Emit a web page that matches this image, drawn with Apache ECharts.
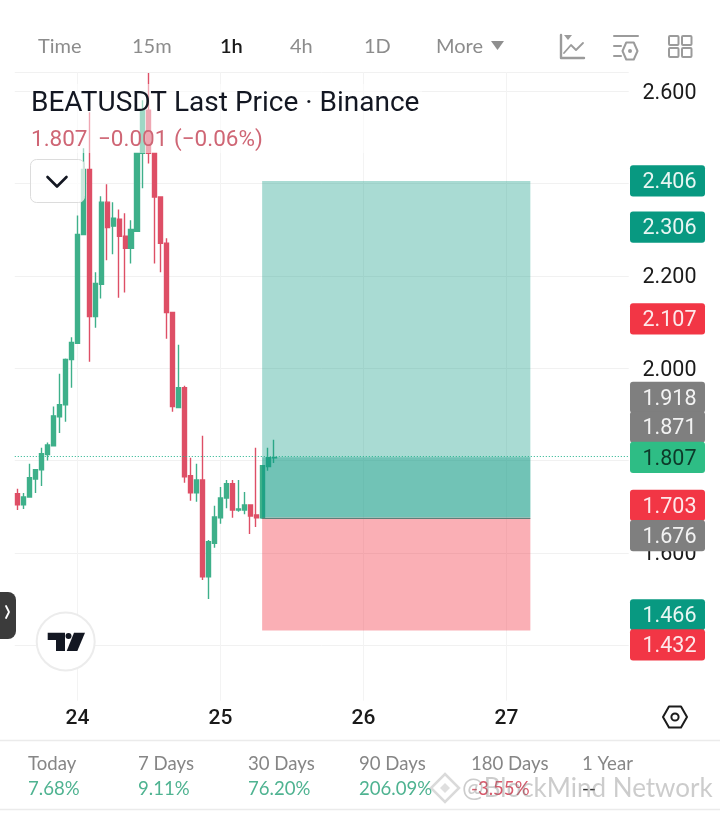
<!DOCTYPE html>
<html>
<head>
<meta charset="utf-8">
<style>html,body{margin:0;padding:0;background:#fff}#c{width:720px;height:813px}</style>
<script src="https://cdn.jsdelivr.net/npm/echarts@6/dist/echarts.min.js"></script>
</head>
<body>
<div id="c"></div>
<script>
const opens  = [1.728,1.704,1.721,1.760,1.780,1.813,1.832,1.895,1.921,2.019,2.054,2.290,2.431,2.112,2.182,2.360,2.308,2.323,2.286,2.260,2.297,2.466,2.559,2.466,2.371,2.271,2.121,1.915,1.958,1.767,1.730,1.758,1.548,1.621,1.676,1.719,1.750,1.693,1.693,1.704,1.682,1.676,1.787,1.806];
const closes = [1.704,1.721,1.763,1.780,1.815,1.834,1.897,1.921,2.019,2.056,2.290,2.431,2.112,2.184,2.360,2.305,2.325,2.286,2.260,2.301,2.466,2.559,2.466,2.371,2.271,2.121,1.917,1.958,1.765,1.730,1.758,1.548,1.624,1.678,1.719,1.750,1.693,1.695,1.704,1.680,1.676,1.789,1.806,1.807];
const lows   = [1.693,1.695,1.721,1.730,1.745,1.800,1.832,1.860,1.884,1.958,2.054,2.290,2.014,2.088,2.151,2.234,2.247,2.153,2.164,2.227,2.297,2.390,2.444,2.227,2.208,2.064,1.906,1.915,1.752,1.713,1.711,1.541,1.500,1.611,1.663,1.697,1.676,1.689,1.684,1.641,1.656,1.674,1.778,1.795];
const highs  = [1.739,1.730,1.793,1.782,1.828,1.839,1.917,1.988,2.021,2.067,2.331,2.477,2.555,2.208,2.373,2.399,2.360,2.344,2.336,2.321,2.466,2.581,2.640,2.466,2.371,2.282,2.121,2.051,1.962,1.806,1.793,1.854,1.628,1.702,1.743,1.758,1.758,1.758,1.732,1.704,1.828,1.789,1.828,1.845];
const dayLabels = ['24','25','26','27'];
const slotCount = 103;
const takeProfit = 2.406, entry = 1.676, stopLoss = 1.432, lastPrice = 1.807;
const priceTicks = [2.6,2.4,2.2,2.0,1.8,1.6,1.4];
const tagValues = [2.406,2.306,2.107,1.918,1.871,1.807,1.703,1.676,1.466,1.432];
const periodNames = ['Today','7 Days','30 Days','90 Days','180 Days','1 Year'];
const periodValues = ['7.68%','9.11%','76.20%','206.09%','-3.55%','--'];
const tabs = ['Time','15m','1h','4h','1D','More'];

// hourly slots: slot 0 is 14:00 on the 23rd
const categories = [];
for (let i = 0; i < slotCount; i++) {
  const h = (i + 14) % 24, d = 23 + Math.floor((i + 14) / 24);
  categories.push(h === 0 ? String(d) : d + ' ' + String(h).padStart(2, '0') + ':00');
}
const boxStart = categories[41], boxEnd = categories[86];
const candles = opens.map((o, i) => [o, closes[i], lows[i], highs[i]]);

const TEAL='#089981', RED='#F23645', GRAY='#7F7F7F', LIVE='#2EBD85';
const tagColor = [TEAL,TEAL,RED,GRAY,GRAY,LIVE,RED,GRAY,TEAL,RED];
const tagInk   = ['#e8f6f3','#e8f6f3','#fde8ea','#f2f2f2','#f2f2f2','#0d3a2a','#fde8ea','#f2f2f2','#e8f6f3','#fde8ea'];
const tagShift = [0,0,0,-8.8,-0.8,0,0,17.9,0,14.5];

const ICON='#9b9b9b', Z=50;
const txt=(t,x,y,font,fill,extra)=>({type:'text',z:Z+2,x,y,silent:true,style:Object.assign({text:t,font,fill,verticalAlign:'middle',align:'left'},extra||{})});
const line=(pts,stroke,w,z)=>({type:'polyline',z:z||Z+1,silent:true,shape:{points:pts},style:{stroke,lineWidth:w,fill:null,lineCap:'round',lineJoin:'round'}});
const poly=(pts,fill)=>({type:'polygon',z:Z+1,silent:true,shape:{points:pts},style:{fill}});
const hex=(cx,cy,rx,ry)=>[[cx-rx,cy],[cx-rx/2,cy-ry],[cx+rx/2,cy-ry],[cx+rx,cy],[cx+rx/2,cy+ry],[cx-rx/2,cy+ry],[cx-rx,cy]];

const tabX=[38,132,220,290,364,436];
const graphicEls=[
  {type:'rect',z:Z,silent:true,shape:{x:30,y:84,width:392,height:69},style:{fill:'rgba(255,255,255,0.5)'}},
  txt('BEATUSDT Last Price · Binance',31,103.5,'28px Roboto','#131722'),
  txt('1.807',31,140.5,'22.5px Roboto','#cf6675'),
  txt('−0.001',98,140.5,'22.5px Roboto','#cf6675'),
  txt('(−0.06%)',174,140.5,'22.5px Roboto','#cf6675'),
  {type:'rect',z:Z,silent:true,shape:{x:30.5,y:159.5,width:54,height:43,r:6},style:{fill:'rgba(255,255,255,0.72)',stroke:'#dcdcdc',lineWidth:1}},
  line([[47.5,177],[57,186.5],[66.5,177]],'#131722',2.6),
  {type:'rect',z:Z,silent:true,shape:{x:-8,y:592,width:24,height:47,r:8},style:{fill:'#3b3b3b'}},
  line([[6,606],[9,612],[6,618]],'#fff',1.8),
  {type:'circle',z:Z,silent:true,shape:{cx:65.7,cy:641.5,r:29},style:{fill:'#fff',stroke:'#ececec',lineWidth:2}},
  poly([[47.7,632.7],[65,632.7],[65,651],[56,651],[56,640],[47.7,640]],'#131722'),
  {type:'circle',z:Z+1,silent:true,shape:{cx:68.5,cy:636,r:3},style:{fill:'#131722'}},
  poly([[74,632.7],[85,632.7],[77.3,651],[66.7,651]],'#131722'),
  line(hex(675,717,12,10.5),'#1c1c1c',2),
  {type:'circle',z:Z+1,silent:true,shape:{cx:675,cy:717,r:3.6},style:{fill:'none',stroke:'#1c1c1c',lineWidth:2}},
  line([[561,35],[561,58],[584,58]],ICON,2.4),
  poly([[564,35],[572,35],[568,40]],ICON),
  line([[564,53],[571,45],[576,50],[583,43]],ICON,1.8),
  line([[614,36],[638,36]],ICON,2),
  line([[614,46],[621,46]],ICON,2),
  line([[614,56],[621,56]],ICON,2),
  line(hex(630,51,7.5,8.5),ICON,2),
  {type:'circle',z:Z+1,silent:true,shape:{cx:630,cy:51,r:2},style:{fill:ICON}},
  ...[[669,36],[682,36],[669,48],[682,48]].map(p=>({type:'rect',z:Z+1,silent:true,shape:{x:p[0],y:p[1],width:9.5,height:9,r:1},style:{fill:'none',stroke:ICON,lineWidth:2}})),
  poly([[491,41],[504,41],[497.5,50]],'#8f8f8f'),
  line([[0,740.5],[720,740.5]],'#ebebeb',1.5),
  line([[0,809.5],[720,809.5]],'#ebebeb',1.5),
  ...tabs.map((t,i)=>txt(t,tabX[i],47,(t==='1h'?'600 ':'')+'20px Lato',t==='1h'?'#1a1a1a':'#8c8c8c')),
];
const statX=[28,138,248,359,471,582];
periodNames.forEach((n,i)=>{
  graphicEls.push(txt(n,statX[i],764,'18.6px Lato','#868686'));
  graphicEls.push(txt(periodValues[i],statX[i],788.5,'18.6px Lato',periodValues[i][0]==='-'&&periodValues[i]!=='--'?'#d9596b':(periodValues[i]==='--'?'#333':'#4fb391')));
});
graphicEls.push(
  txt('@BlockMind Network',462,788.5,'26px Lato','rgba(120,120,120,0.38)'),
  {type:'polygon',z:Z+2,silent:true,shape:{points:[[445,774],[459,788],[445,802],[431,788]]},style:{fill:'none',stroke:'rgba(150,150,150,0.35)',lineWidth:2.5}},
  {type:'polygon',z:Z+2,silent:true,shape:{points:[[445,783],[450,788],[445,793],[440,788]]},style:{fill:'rgba(150,150,150,0.3)'}}
);

const chart = echarts.init(document.getElementById('c'), null, {renderer:'canvas'});
chart.setOption({
  animation:false,
  backgroundColor:'#fff',
  grid:{left:14.8,top:72,width:613.9,height:665.5,containLabel:false},
  xAxis:{type:'category',data:categories,boundaryGap:true,
    axisLine:{show:false},axisTick:{show:false},splitLine:{show:false},
    axisLabel:{inside:true,margin:8,interval:(i,v)=>dayLabels.includes(v),hideOverlap:false,
      fontFamily:'Roboto',fontSize:21,fontWeight:500,color:'#1a1a1a'}},
  yAxis:{type:'value',position:'right',min:1.2,max:2.642,interval:0.2,scale:true,
    axisLine:{show:false},axisTick:{show:false},axisLabel:{show:false},
    splitLine:{show:true,showMinLine:false,showMaxLine:true,lineStyle:{color:'#f1f1f1',width:1}}},
  series:[
    {type:'line',name:'grid',data:[],z:1,silent:true,
      markLine:{silent:true,symbol:'none',label:{show:false},z:1,
        lineStyle:{color:'#f3f3f3',width:1,type:'solid'},
        data:dayLabels.map(d=>[{xAxis:d,yAxis:2.642},{xAxis:d,yAxis:1.28}])}},
    {type:'candlestick',name:'BEATUSDT',data:candles,barWidth:4.6,z:2,
      itemStyle:{color:'#3EB08A',color0:'#DE4F66',borderColor:'#3EB08A',borderColor0:'#DE4F66',borderWidth:1.4}},
    {type:'line',name:'position',data:[],z:3,silent:true,
      markArea:{silent:true,z:3,data:[
        [{xAxis:boxStart,yAxis:takeProfit,itemStyle:{color:'rgba(8,153,129,0.35)'}},{xAxis:boxEnd,yAxis:entry}],
        [{xAxis:boxStart,yAxis:lastPrice,itemStyle:{color:'rgba(8,153,129,0.35)'}},{xAxis:boxEnd,yAxis:entry}],
        [{xAxis:boxStart,yAxis:entry,itemStyle:{color:'rgba(242,54,69,0.4)'}},{xAxis:boxEnd,yAxis:stopLoss}]
      ]},
      markLine:{silent:true,symbol:'none',label:{show:false},z:4,data:[
        [{xAxis:boxStart,yAxis:entry,lineStyle:{color:'#5f7f78',width:1,type:'solid'}},{xAxis:boxEnd,yAxis:entry}],
        {yAxis:lastPrice,lineStyle:{color:'#22b38d',width:1.2,type:[1,2]}}
      ]}},
    {type:'custom',name:'ticks',z:5,silent:true,clip:false,
      data:priceTicks.map(v=>[0,v]),encode:{x:0,y:1},
      renderItem:(params,api)=>{
        const y=api.coord([0,api.value(1)])[1];
        return {type:'text',x:669.5,y:y+2,style:{text:api.value(1).toFixed(3),fill:'#1a1a1a',font:'21.5px Roboto',verticalAlign:'middle',align:'center'}};
      }},
    {type:'custom',name:'tags',z:10,silent:true,clip:false,
      data:tagValues.map((v,i)=>[0,v,i]),encode:{x:0,y:1},
      renderItem:(params,api)=>{
        const i=api.value(2), y=api.coord([0,api.value(1)])[1]+tagShift[i];
        return {type:'group',children:[
          {type:'rect',shape:{x:630,y:y-15.6,width:75,height:31.2,r:3},style:{fill:tagColor[i]}},
          {type:'text',x:669.5,y:y+2,style:{text:api.value(1).toFixed(3),fill:tagInk[i],font:'21.5px Roboto',verticalAlign:'middle',align:'center'}}
        ]};
      }}
  ],
  graphic:{elements:graphicEls}
});
</script>
</body>
</html>
